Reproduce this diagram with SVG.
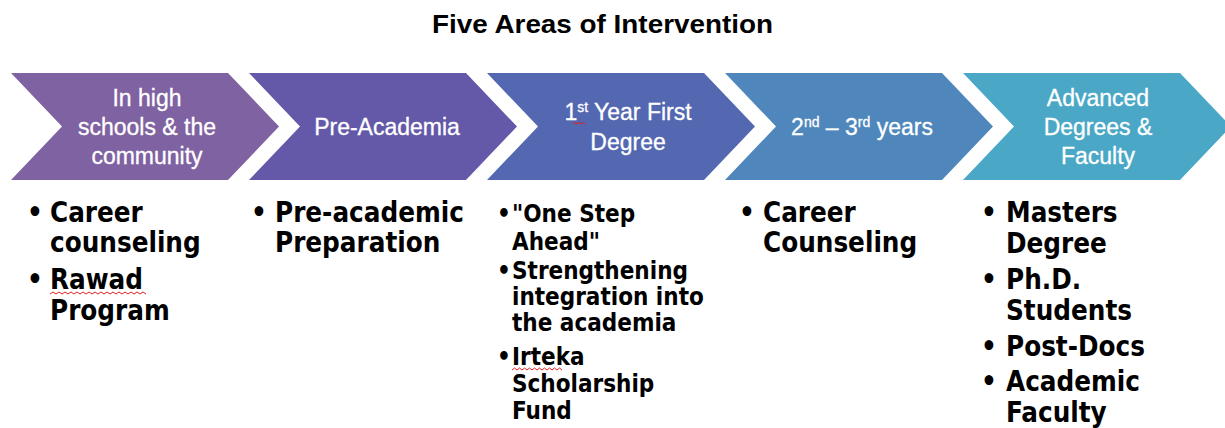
<svg xmlns="http://www.w3.org/2000/svg" width="1225" height="428" viewBox="0 0 1225 428">
<style>
.title{font-family:"Liberation Sans",Arial,sans-serif;font-weight:bold;font-size:25px;fill:#000}
.ch{font-family:"Liberation Sans",Arial,sans-serif;font-size:23px;fill:#fff;text-anchor:middle;stroke:#fff;stroke-width:0.3}
.sup{font-size:14px}
.b{font-family:"DejaVu Sans Condensed","DejaVu Sans",sans-serif;font-weight:bold;font-size:27.5px;fill:#000}
.s{font-family:"DejaVu Sans Condensed","DejaVu Sans",sans-serif;font-weight:bold;font-size:24px;fill:#000}
.wave{fill:none;stroke:#e02020;stroke-width:1}
</style>
<defs>
<polygon id="chev" points="0,73 217,73 268,126.5 217,180 0,180 51,126.5"/>
</defs>
<rect width="1225" height="428" fill="#fff"/>
<text class="title" x="432" y="33" textLength="341" lengthAdjust="spacingAndGlyphs">Five Areas of Intervention</text>

<g id="node1">
<use href="#chev" x="11" fill="#7F62A1"/>
<text class="ch" x="147" y="106">In high</text>
<text class="ch" x="147" y="135">schools &amp; the</text>
<text class="ch" x="147" y="164">community</text>
<text class="b" x="27" y="222">•</text>
<text class="b" x="50" y="222">Career</text>
<text class="b" x="50" y="252">counseling</text>
<text class="b" x="27" y="289">•</text>
<text class="b" x="50" y="289">Rawad</text>
<path class="wave" d="M50,294 l3,-2 l3,2 l3,-2 l3,2 l3,-2 l3,2 l3,-2 l3,2 l3,-2 l3,2 l3,-2 l3,2 l3,-2 l3,2 l3,-2 l3,2 l3,-2 l3,2 l3,-2 l3,2 l3,-2 l3,2 l3,-2 l3,2 l3,-2 l3,2 l3,-2 l3,2 l3,-2 l3,2 l3,-2 l3,2"/>
<text class="b" x="50" y="320">Program</text>
</g>

<g id="node2">
<use href="#chev" x="249" fill="#6459A8"/>
<text class="ch" x="387" y="135">Pre-Academia</text>
<text class="b" x="251" y="222">•</text>
<text class="b" x="275" y="222">Pre-academic</text>
<text class="b" x="275" y="252">Preparation</text>
</g>

<g id="node3">
<use href="#chev" x="487" fill="#5467B1"/>
<text class="ch" x="628" y="120">1<tspan class="sup" dy="-8">st</tspan><tspan dy="8"> Year First</tspan></text>
<path class="wave" d="M573,124 l2,-1.5 l2,1.5 l2,-1.5 l2,1.5 l2,-1.5 l2,1.5"/>
<text class="ch" x="628" y="150">Degree</text>
<text class="s" x="497" y="222">•</text>
<text class="s" x="512" y="222">"One Step</text>
<text class="s" x="512" y="250">Ahead"</text>
<text class="s" x="497" y="279">•</text>
<text class="s" x="512" y="279">Strengthening</text>
<text class="s" x="512" y="305">integration into</text>
<text class="s" x="512" y="331">the academia</text>
<text class="s" x="497" y="365">•</text>
<text class="s" x="512" y="365">Irteka</text>
<path class="wave" d="M512,370 l2.5,-2 l2.5,2 l2.5,-2 l2.5,2 l2.5,-2 l2.5,2 l2.5,-2 l2.5,2 l2.5,-2 l2.5,2 l2.5,-2 l2.5,2 l2.5,-2 l2.5,2 l2.5,-2 l2.5,2 l2.5,-2 l2.5,2 l2.5,-2 l2.5,2"/>
<text class="s" x="512" y="392">Scholarship</text>
<text class="s" x="512" y="419">Fund</text>
</g>

<g id="node4">
<use href="#chev" x="725" fill="#4F87BD"/>
<text class="ch" x="862" y="135">2<tspan class="sup" dy="-8">nd</tspan><tspan dy="8"> – 3</tspan><tspan class="sup" dy="-8">rd</tspan><tspan dy="8"> years</tspan></text>
<text class="b" x="739" y="222">•</text>
<text class="b" x="763" y="222">Career</text>
<text class="b" x="763" y="252">Counseling</text>
</g>

<g id="node5">
<use href="#chev" x="963" fill="#4AA8C6"/>
<text class="ch" x="1098" y="106">Advanced</text>
<text class="ch" x="1098" y="135">Degrees &amp;</text>
<text class="ch" x="1098" y="164">Faculty</text>
<text class="b" x="981" y="222">•</text>
<text class="b" x="1006" y="222">Masters</text>
<text class="b" x="1006" y="253">Degree</text>
<text class="b" x="981" y="289">•</text>
<text class="b" x="1006" y="289">Ph.D.</text>
<text class="b" x="1006" y="320">Students</text>
<text class="b" x="981" y="356">•</text>
<text class="b" x="1006" y="356">Post-Docs</text>
<text class="b" x="981" y="391">•</text>
<text class="b" x="1006" y="391">Academic</text>
<text class="b" x="1006" y="422">Faculty</text>
</g>

<g id="connectors"></g>
</svg>
